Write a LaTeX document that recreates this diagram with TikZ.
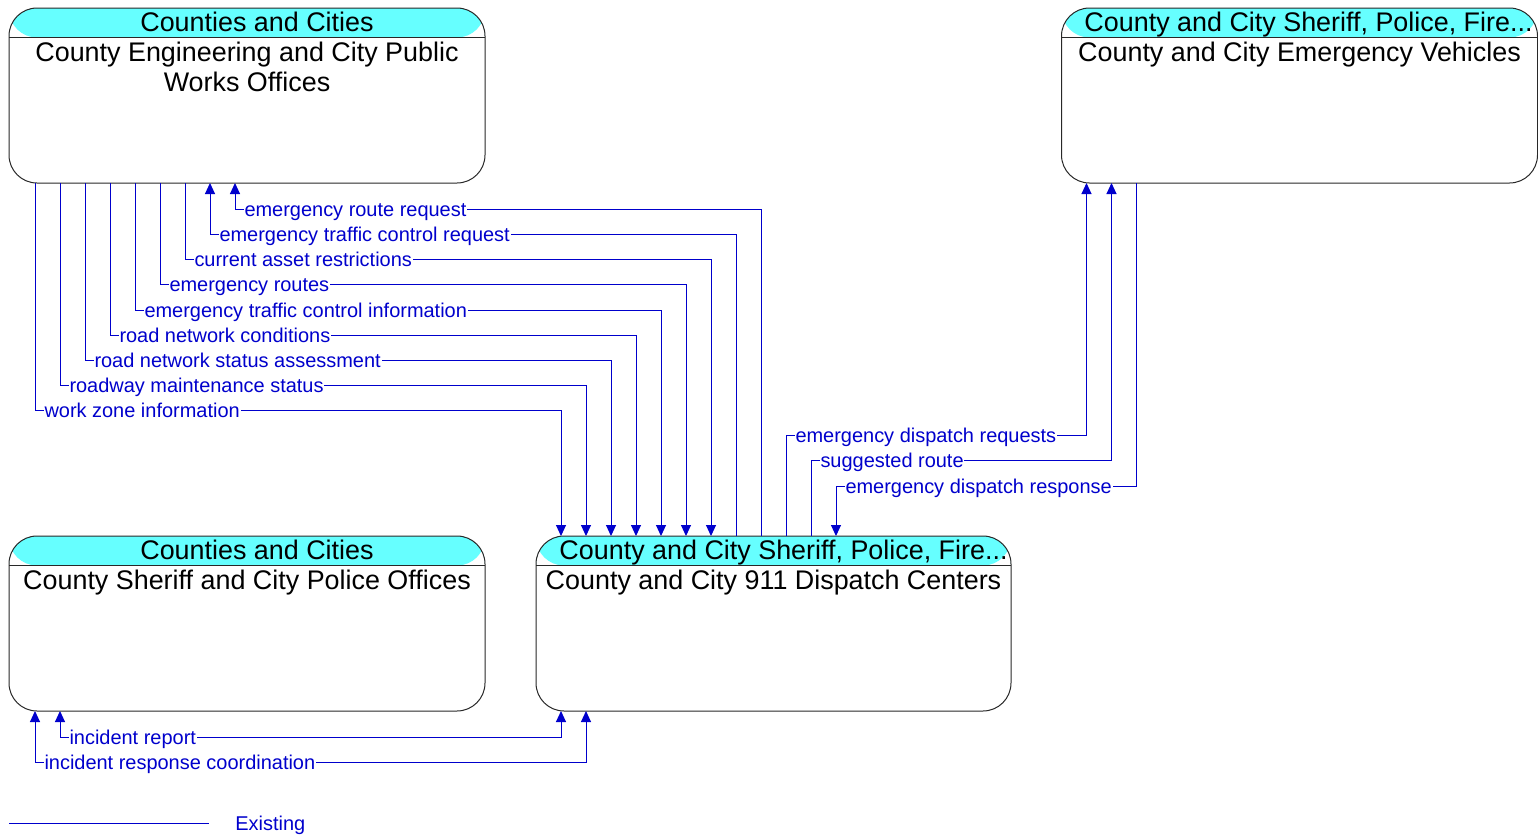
\documentclass[tikz,border=0pt]{standalone}
\usepackage{fontspec}
\setmainfont{Liberation Sans}
\usetikzlibrary{arrows.meta,calc}
\definecolor{flowblue}{RGB}{0,0,204}
\definecolor{hdrcyan}{RGB}{102,255,255}
\definecolor{edge}{RGB}{40,40,40}
\newcommand{\ttlfont}{\fontsize{13.45}{15}\selectfont}
\newcommand{\lblfont}{\fontsize{9.98}{12}\selectfont}
\tikzset{
  box/.style={draw=edge, line width=0.5pt, rounded corners=14pt,
    minimum width=238pt, minimum height=87.5pt, inner sep=0pt, outer sep=0pt,
    path picture={
      \fill[hdrcyan] (path picture bounding box.north west) rectangle
        ([yshift=-14.75pt]path picture bounding box.north east);
      \draw[edge, line width=0.5pt] ([yshift=-14.75pt]path picture bounding box.north west) --
        ([yshift=-14.75pt]path picture bounding box.north east);
    }},
  ttl/.style={font=\ttlfont, text=black, anchor=base, inner sep=0pt},
  body/.style={font=\ttlfont, text=black, anchor=base, inner sep=0pt},
  flow/.style={draw=flowblue, line width=0.5pt},
  lbl/.style={font=\lblfont, text=flowblue, fill=white, inner sep=0.4pt,
    anchor=base west, xshift=4.1pt, yshift=-3.6pt},
  >={Triangle[width=5pt,length=5.5pt]}
}
\begin{document}
\begin{tikzpicture}[x=0.5pt,y=-0.5pt]
\useasboundingbox (0,0) rectangle (1538,836);

% element boxes
\node[box] (A) at (247,95.5) {};
\node[box] (B) at (1299.5,95.5) {};
\node[box] (C) at (247,623.5) {};
\node[box, minimum width=237.5pt] (D) at (773.5,623.5) {};

% box texts
\node[ttl] (At) at ($(A.north)+(10,23.9)$) {Counties and Cities};
\node[body] (Ab1) at ($(A.north)+(0,53.7)$) {County Engineering and City Public};
\node[body] (Ab2) at ($(A.north)+(0,83.2)$) {Works Offices};

\node[ttl] (Bt) at ($(B.north)+(9,23.9)$) {County and City Sheriff, Police, Fire...};
\node[body] (Bb1) at ($(B.north)+(0,53.7)$) {County and City Emergency Vehicles};

\node[ttl] (Ct) at ($(C.north)+(10,23.9)$) {Counties and Cities};
\node[body] (Cb1) at ($(C.north)+(0,53.7)$) {County Sheriff and City Police Offices};

\node[ttl] (Dt) at ($(D.north)+(10,23.9)$) {County and City Sheriff, Police, Fire...};
\node[body] (Db1) at ($(D.north)+(0,53.7)$) {County and City 911 Dispatch Centers};

% flows between public works and dispatch
\draw[flow,<-] ($(A.south west)+(226,0)$) -- ++(0,26) node[lbl] (f1) {emergency route request} -| ($(D.north west)+(225,0)$);
\draw[flow,<-] ($(A.south west)+(201,0)$) -- ++(0,51) node[lbl] (f2) {emergency traffic control request} -| ($(D.north west)+(200,0)$);
\draw[flow,->] ($(A.south west)+(176,0)$) -- ++(0,76) node[lbl] (f3) {current asset restrictions} -| ($(D.north west)+(175,0)$);
\draw[flow,->] ($(A.south west)+(151,0)$) -- ++(0,101) node[lbl] (f4) {emergency routes} -| ($(D.north west)+(150,0)$);
\draw[flow,->] ($(A.south west)+(126,0)$) -- ++(0,127) node[lbl] (f5) {emergency traffic control information} -| ($(D.north west)+(125,0)$);
\draw[flow,->] ($(A.south west)+(101,0)$) -- ++(0,152) node[lbl] (f6) {road network conditions} -| ($(D.north west)+(100,0)$);
\draw[flow,->] ($(A.south west)+(76,0)$) -- ++(0,177) node[lbl] (f7) {road network status assessment} -| ($(D.north west)+(75,0)$);
\draw[flow,->] ($(A.south west)+(51,0)$) -- ++(0,202) node[lbl] (f8) {roadway maintenance status} -| ($(D.north west)+(50,0)$);
\draw[flow,->] ($(A.south west)+(26,0)$) -- ++(0,227) node[lbl] (f9) {work zone information} -| ($(D.north west)+(25,0)$);

% flows between dispatch and emergency vehicles
\draw[flow,->] ($(D.north west)+(250,0)$) -- ++(0,-101) node[lbl] (f10) {emergency dispatch requests} -| ($(B.south west)+(25,0)$);
\draw[flow,->] ($(D.north west)+(275,0)$) -- ++(0,-76) node[lbl] (f11) {suggested route} -| ($(B.south west)+(50,0)$);
\draw[flow,<-] ($(D.north west)+(300,0)$) -- ++(0,-50) node[lbl] (f12) {emergency dispatch response} -| ($(B.south west)+(75,0)$);

% flows between police offices and dispatch
\draw[flow,<->] ($(C.south west)+(51,0)$) -- ++(0,26) node[lbl] (f13) {incident report} -| ($(D.south west)+(25,0)$);
\draw[flow,<->] ($(C.south west)+(26,0)$) -- ++(0,51) node[lbl] (f14) {incident response coordination} -| ($(D.south west)+(50,0)$);

% legend
\coordinate (L0) at (9,823);
\coordinate (L1) at (209,823);
\draw[flow] (L0) -- (L1);
\node[font=\lblfont, text=flowblue, anchor=base west, inner sep=0pt] (leg) at (235,830) {Existing};
\end{tikzpicture}
\end{document}
